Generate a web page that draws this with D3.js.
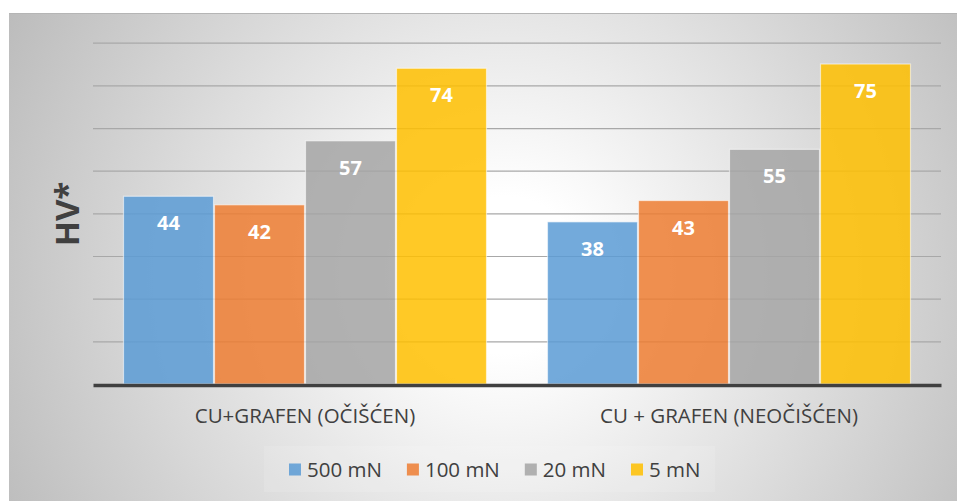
<!DOCTYPE html>
<html>
<head>
<meta charset="utf-8">
<script src="https://cdn.jsdelivr.net/npm/d3@7"></script>
<style>
  html, body { margin: 0; padding: 0; background: #fff; }
  svg { display: block; }
  text { font-family: "Open Sans", "Noto Sans", sans-serif; }
</style>
</head>
<body>
<svg id="chart" width="957" height="501"></svg>
<script>
const categories = ["CU+GRAFEN (OČIŠĆEN)", "CU + GRAFEN (NEOČIŠĆEN)"];
const seriesNames = ["500 mN", "100 mN", "20 mN", "5 mN"];
const seriesColors = ["#5B9BD5", "#ED7D31", "#A5A5A5", "#FFC000"];
const s500 = [44, 38];
const s100 = [42, 43];
const s20 = [57, 55];
const s5 = [74, 75];
const seriesValues = [s500, s100, s20, s5];
const yTicks = [0, 10, 20, 30, 40, 50, 60, 70, 80];
const yTitle = "HV*";

const W = 957, H = 501;
const svg = d3.select("#chart");
const defs = svg.append("defs");
const grad = defs.append("radialGradient")
  .attr("id", "bg").attr("gradientUnits", "userSpaceOnUse")
  .attr("cx", 505).attr("cy", 275).attr("r", 560);
grad.append("stop").attr("offset", "0").attr("stop-color", "#ffffff");
grad.append("stop").attr("offset", "0.14").attr("stop-color", "#ffffff");
grad.append("stop").attr("offset", "1").attr("stop-color", "#bcbcbc");

// frame
svg.append("rect").attr("x", 9).attr("y", 13).attr("width", W - 9).attr("height", H - 13)
  .attr("fill", "url(#bg)");
svg.append("line").attr("x1", 9).attr("x2", W).attr("y1", 13.5).attr("y2", 13.5)
  .attr("stroke", "#b5b5b5").attr("stroke-width", 1);

const plotL = 93, plotR = 941, plotT = 42.7, plotB = 384;

const y = d3.scaleLinear().domain([0, 80]).range([plotB, plotT]);
const x0 = d3.scaleBand().domain(categories).range([plotL, plotR])
  .paddingInner(60 / 424).paddingOuter(30 / 424);
const x1 = d3.scaleBand().domain(seriesNames).range([0, x0.bandwidth()]).padding(0);

// gridlines
const yAxis = d3.axisLeft(y).tickValues(yTicks.filter(d => d > 0))
  .tickSize(-(plotR - plotL)).tickFormat("");
const gy = svg.append("g").attr("transform", `translate(${plotL},0)`).call(yAxis);
gy.select(".domain").remove();
gy.selectAll(".tick line").attr("stroke", "#a8a8a8").attr("stroke-width", 1.2);

// bars
const groups = svg.append("g").selectAll("g").data(categories).join("g")
  .attr("transform", d => `translate(${x0(d)},0)`);

groups.each(function(cat, ci) {
  const g = d3.select(this);
  seriesNames.forEach((s, si) => {
    const v = seriesValues[si][ci];
    g.append("rect")
      .attr("x", x1(s) + 0.5)
      .attr("y", y(v))
      .attr("width", x1.bandwidth() - 1)
      .attr("height", y(0) - y(v))
      .attr("fill", seriesColors[si])
      .attr("fill-opacity", 0.85)
      .attr("stroke", "#ffffff")
      .attr("stroke-opacity", 0.55)
      .attr("stroke-width", 1.2);
    g.append("text")
      .attr("x", x1(s) + x1.bandwidth() / 2)
      .attr("y", y(v) + 34)
      .attr("text-anchor", "middle")
      .attr("fill", "#ffffff")
      .attr("font-weight", "bold")
      .attr("font-size", 20)
      .text(v);
  });
});

// baseline axis
const xAxis = d3.axisBottom(x0).tickSize(0).tickPadding(0).tickFormat("");
const gx = svg.append("g").attr("transform", `translate(0,${y(0) + 1})`).call(xAxis);
gx.select(".domain").attr("stroke", "#404040").attr("stroke-width", 3.4);

// category labels
svg.append("g").selectAll("text").data(categories).join("text")
  .attr("x", d => x0(d) + x0.bandwidth() / 2)
  .attr("y", 423)
  .attr("text-anchor", "middle")
  .attr("fill", "#404040")
  .attr("font-size", 20.5)
  .text(d => d);

// y title
svg.append("text")
  .attr("transform", "translate(79,214) rotate(-90)")
  .attr("text-anchor", "middle")
  .attr("fill", "#404040")
  .attr("font-weight", "bold")
  .attr("font-size", 33)
  .text(yTitle);

// legend
svg.append("rect").attr("x", 264).attr("y", 446).attr("width", 451).attr("height", 46)
  .attr("fill", "#ffffff").attr("fill-opacity", 0.12);
const leg = svg.append("g");
let lx = 289;
seriesNames.forEach((s, i) => {
  leg.append("rect").attr("x", lx).attr("y", 463.5).attr("width", 12).attr("height", 12)
    .attr("fill", seriesColors[i]).attr("fill-opacity", 0.85);
  const t = leg.append("text").attr("x", lx + 18).attr("y", 476.5)
    .attr("fill", "#404040").attr("font-size", 20.5).text(s);
  lx += 18 + t.node().getComputedTextLength() + 25;
});
</script>
</body>
</html>
